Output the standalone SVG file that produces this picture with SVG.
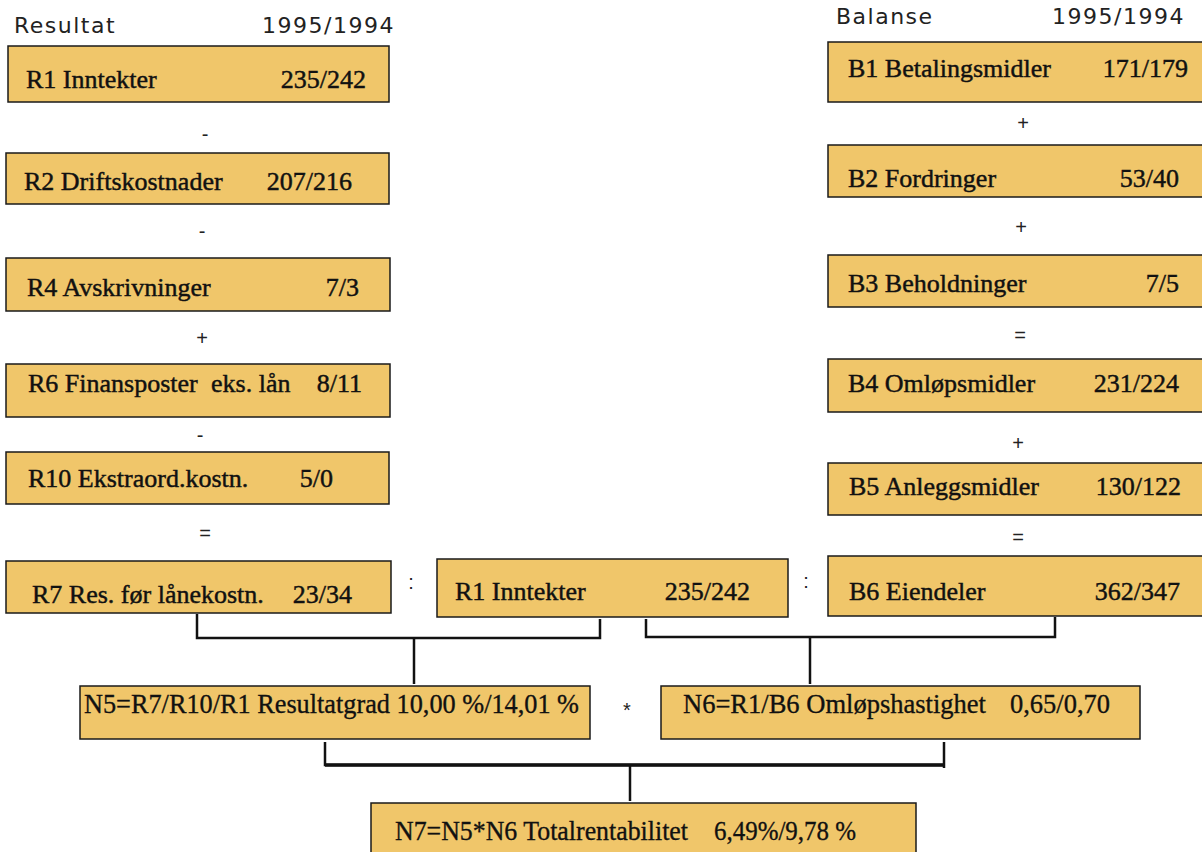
<svg xmlns="http://www.w3.org/2000/svg" width="1202" height="852" viewBox="0 0 1202 852">
<style>
.box{fill:#F0C66A;stroke:#1a1a1a;stroke-width:1.5}
.lbl{font-family:"Liberation Serif",serif;font-size:26px;fill:#111;stroke:#111;stroke-width:0.45}
.num{font-family:"Liberation Serif",serif;font-size:26px;fill:#111;stroke:#111;stroke-width:0.45;text-anchor:end}
.big{font-family:"Liberation Serif",serif;font-size:28px;fill:#111;stroke:#111;stroke-width:0.35}
.hdr{font-family:"DejaVu Sans",sans-serif;font-size:22px;letter-spacing:1.5px;fill:#222}
.op{font-family:"Liberation Sans",sans-serif;font-size:20px;fill:#222;text-anchor:middle}
.con{fill:none;stroke:#111;stroke-width:2.5}
</style>
<rect width="1202" height="852" fill="#fff"/>
<g id="headers">
<text class="hdr" x="14" y="33">Resultat</text>
<text class="hdr" x="262" y="33">1995/1994</text>
<text class="hdr" x="836" y="24">Balanse</text>
<text class="hdr" x="1052" y="24">1995/1994</text>
</g>
<g id="R1"><rect class="box" x="8" y="46" width="381" height="56"/><text class="lbl" x="26" y="88">R1 Inntekter</text><text class="num" x="366" y="88">235/242</text></g>
<g id="R2"><rect class="box" x="6" y="153" width="383" height="51"/><text class="lbl" x="24" y="190">R2 Driftskostnader</text><text class="num" x="352" y="190">207/216</text></g>
<g id="R4"><rect class="box" x="6" y="258" width="384" height="53"/><text class="lbl" x="27" y="296">R4 Avskrivninger</text><text class="num" x="359" y="296">7/3</text></g>
<g id="R6"><rect class="box" x="6" y="364" width="384" height="53"/><text class="lbl" x="28" y="392">R6 Finansposter</text><text class="lbl" x="211" y="392">eks. lån</text><text class="num" x="362" y="392">8/11</text></g>
<g id="R10"><rect class="box" x="6" y="452" width="383" height="52"/><text class="lbl" x="28" y="487">R10 Ekstraord.kostn.</text><text class="num" x="333" y="487">5/0</text></g>
<g id="R7"><rect class="box" x="6" y="561" width="385" height="52"/><text class="lbl" x="32" y="603">R7 Res. før lånekostn.</text><text class="num" x="352" y="603">23/34</text></g>
<g id="R1b"><rect class="box" x="437" y="559" width="351" height="58"/><text class="lbl" x="455" y="600">R1 Inntekter</text><text class="num" x="750" y="600">235/242</text></g>
<g id="B1"><rect class="box" x="828" y="42" width="384" height="60"/><text class="lbl" x="848" y="77">B1 Betalingsmidler</text><text class="num" x="1188" y="77">171/179</text></g>
<g id="B2"><rect class="box" x="828" y="145" width="384" height="52"/><text class="lbl" x="848" y="187">B2 Fordringer</text><text class="num" x="1179" y="187">53/40</text></g>
<g id="B3"><rect class="box" x="828" y="255" width="384" height="52"/><text class="lbl" x="848" y="292">B3 Beholdninger</text><text class="num" x="1179" y="292">7/5</text></g>
<g id="B4"><rect class="box" x="828" y="359" width="384" height="53"/><text class="lbl" x="848" y="392">B4 Omløpsmidler</text><text class="num" x="1179" y="392">231/224</text></g>
<g id="B5"><rect class="box" x="828" y="463" width="384" height="52"/><text class="lbl" x="849" y="495">B5 Anleggsmidler</text><text class="num" x="1181" y="495">130/122</text></g>
<g id="B6"><rect class="box" x="828" y="556" width="384" height="60"/><text class="lbl" x="849" y="600">B6 Eiendeler</text><text class="num" x="1180" y="600">362/347</text></g>
<g id="N5"><rect class="box" x="80" y="686" width="510" height="53"/><text class="big" x="84" y="713" textLength="495" lengthAdjust="spacingAndGlyphs">N5=R7/R10/R1 Resultatgrad 10,00 %/14,01 %</text></g>
<g id="N6"><rect class="box" x="661" y="686" width="479" height="53"/><text class="big" x="683" y="713" textLength="303" lengthAdjust="spacingAndGlyphs">N6=R1/B6 Omløpshastighet</text><text class="big" x="1010" y="713" textLength="100" lengthAdjust="spacingAndGlyphs">0,65/0,70</text></g>
<g id="N7"><rect class="box" x="371" y="803" width="545" height="60"/><text class="big" x="395" y="840" textLength="293" lengthAdjust="spacingAndGlyphs">N7=N5*N6 Totalrentabilitet</text><text class="big" x="714" y="840" textLength="142" lengthAdjust="spacingAndGlyphs">6,49%/9,78 %</text></g>
<g id="operators">
<text class="op" x="205" y="141">-</text>
<text class="op" x="202" y="238">-</text>
<text class="op" x="202" y="345">+</text>
<text class="op" x="200" y="442">-</text>
<text class="op" x="205" y="540">=</text>
<text class="op" x="1023" y="130">+</text>
<text class="op" x="1021" y="234">+</text>
<text class="op" x="1020" y="342">=</text>
<text class="op" x="1018" y="450">+</text>
<text class="op" x="1018" y="544">=</text>
<text class="op" x="411" y="589">:</text>
<text class="op" x="806" y="588">:</text>
<text class="op" x="627" y="717">*</text>
</g>
<g id="connectors">
<path class="con" d="M197,614 V638 H600 V619"/>
<path class="con" d="M414,638 V684"/>
<path class="con" d="M646,619 V637 H1055 V617"/>
<path class="con" d="M810,637 V684"/>
<path class="con" d="M325,742 V765 H944"/>
<path class="con" d="M944,742 V768"/>
<path class="con" d="M630,765 V801"/>
<path d="M325,765 H944" fill="none" stroke="#111" stroke-width="3.5"/>
</g>
</svg>
